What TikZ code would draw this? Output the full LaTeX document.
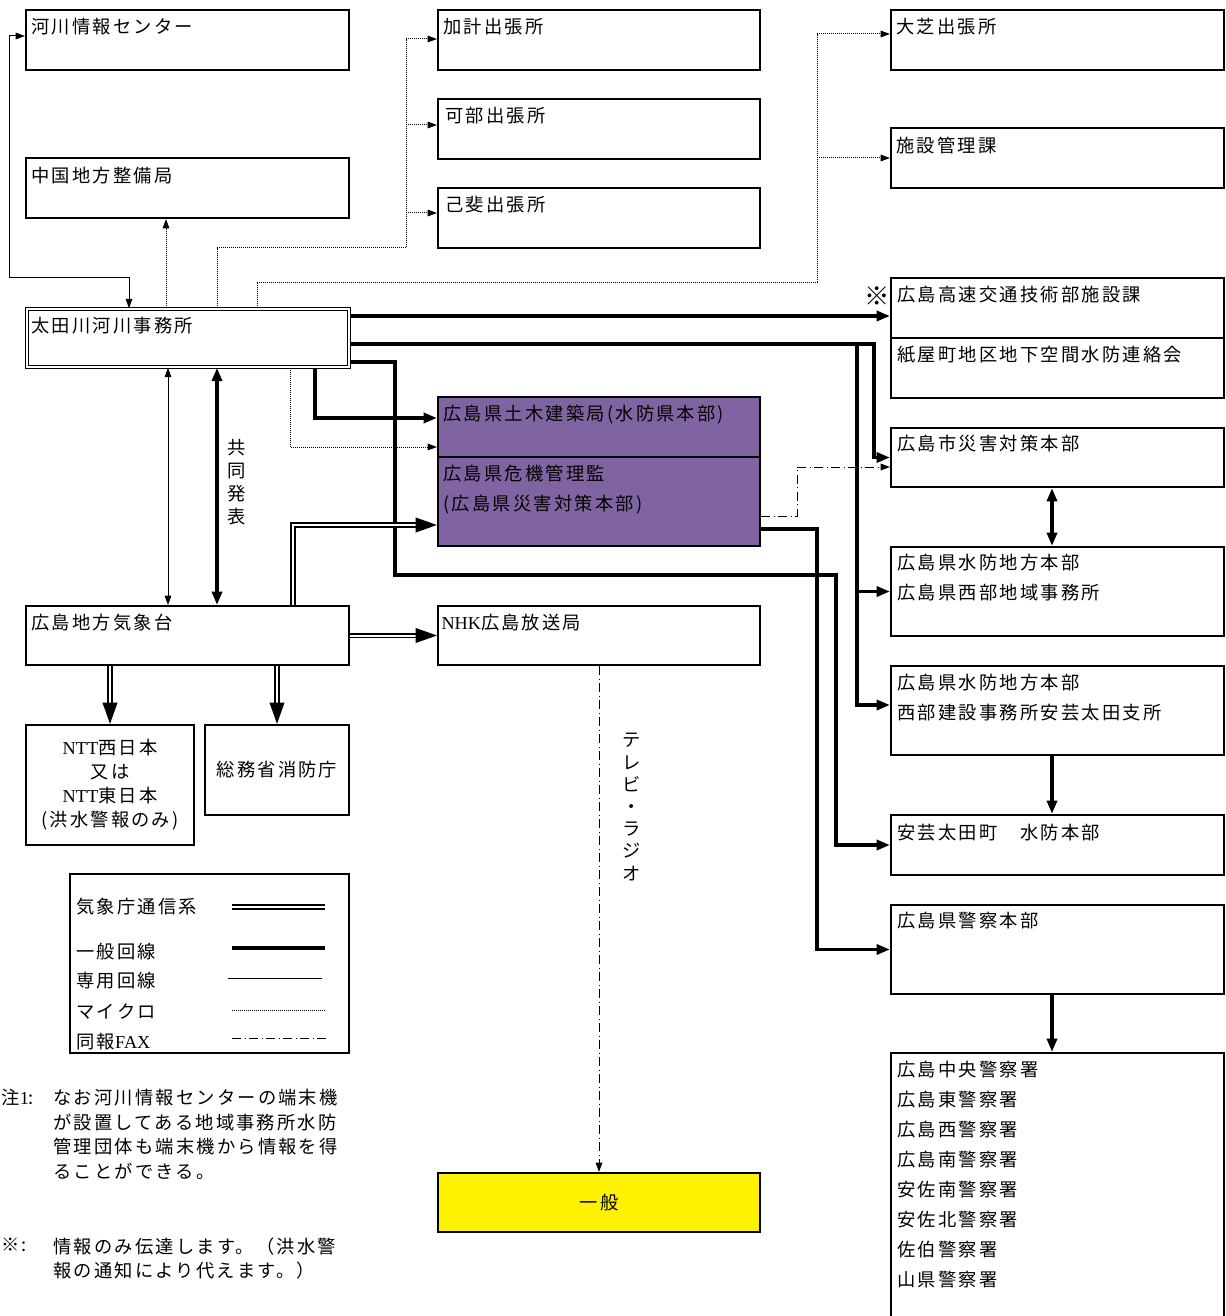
\documentclass[tikz,border=0pt]{standalone}
\usepackage{fontspec}
\setmainfont{Noto Sans CJK JP}[LetterSpace=12]
\newfontfamily\lat{Liberation Serif}
\usetikzlibrary{arrows.meta,fit}
\definecolor{kikipurple}{RGB}{128,100,162}
\newcommand\boxfont{\fontsize{13.7}{22.5}\selectfont}
\newcommand\notefont{\fontsize{13.7}{18.4}\selectfont}
\tikzset{every picture/.style={line width=0.75pt}}
\tikzset{
  box/.style={draw, line width=1.6pt, inner sep=0pt},
  lbl/.style={anchor=north west, inner sep=0pt, align=left, font=\boxfont},
  senyo/.style={line width=0.75pt, >={Triangle[length=7pt,width=5pt]}},
  ippan/.style={line width=2.9pt, >={Triangle[length=10pt,width=7.5pt]}},
  micro/.style={line width=0.75pt, dash pattern=on 0.75pt off 0.75pt, >={Triangle[length=7pt,width=5pt]}},
  fax/.style={line width=0.75pt, dash pattern=on 7pt off 2.5pt on 0.75pt off 2.5pt, >={Triangle[length=7pt,width=5pt]}},
  kisho/.style={double, line width=1.2pt, double distance=1.5pt, >={Triangle[length=16pt,width=11pt]}}
}

\begin{document}
\begin{tikzpicture}[x=0.75pt,y=0.75pt,yscale=-1,xscale=1]
\useasboundingbox (0,0) rectangle (1225,1316);

%Boxes
\node[box, fit={(26,10)(349,70)}] (river) {};
\node[box, fit={(26,158)(349,218)}] (chugoku) {};
\node[box, double, line width=1.2pt, double distance=1.2pt, fit={(27,309)(349,367)}] (office) {};
\node[box, fit={(438,10)(760,70)}] (kake) {};
\node[box, fit={(438,99)(760,159)}] (kabe) {};
\node[box, fit={(438,188)(760,248)}] (koi) {};
\node[box, fit={(891,10)(1224,70)}] (oshiba) {};
\node[box, fit={(891,128)(1224,188)}] (shisetsu) {};
\node[box, fit={(891,278)(1224,338)}] (kosoku) {};
\node[box, fit={(891,338)(1224,398)}] (kamiya) {};
\node[box, fit={(891,428)(1224,487)}] (shi) {};
\node[box, fit={(891,547)(1224,636)}] (seibu) {};
\node[box, fit={(891,666)(1224,755)}] (shisho) {};
\node[box, fit={(891,815)(1224,875)}] (town) {};
\node[box, fit={(891,905)(1224,994)}] (police) {};
\node[box, fit={(891,1053)(1224,1340)}] (stations) {};
\node[box, fill=kikipurple, fit={(438,397)(760,457)}] (pref) {};
\node[box, fill=kikipurple, fit={(438,457)(760,546)}] (kiki) {};
\node[box, fit={(26,606)(349,665)}] (kisho) {};
\node[box, fit={(438,606)(760,665)}] (nhk) {};
\node[box, fit={(26,725)(194,845)}] (ntt) {};
\node[box, fit={(205,725)(349,815)}] (fdma) {};
\node[box, fill=yellow, fit={(438,1173)(760,1232)}] (ippan) {};
\node[box, line width=2.2pt, fit={(70,874)(349,1053)}] (legend) {};

% Text Node
\node[lbl] (river-t) at (31,18) {河川情報センター};
\node[lbl] (chugoku-t) at (31,167) {中国地方整備局};
\node[lbl] (office-t) at (31,317) {太田川河川事務所};
\node[lbl] (kake-t) at (443,18) {加計出張所};
\node[lbl] (kabe-t) at (445,107) {可部出張所};
\node[lbl] (koi-t) at (445,196) {己斐出張所};
\node[lbl] (oshiba-t) at (896,18) {大芝出張所};
\node[lbl] (shisetsu-t) at (896,137) {施設管理課};
\node[font=\fontsize{19}{19}\selectfont, inner sep=0pt] (kome) at (877,296) {※};
\node[lbl] (kosoku-t) at (897,286) {広島高速交通技術部施設課};
\node[lbl] (kamiya-t) at (897,346) {紙屋町地区地下空間水防連絡会};
\node[lbl] (shi-t) at (897,435) {広島市災害対策本部};
\node[lbl] (seibu-t) at (897,554) {広島県水防地方本部\\広島県西部地域事務所};
\node[lbl] (shisho-t) at (897,674) {広島県水防地方本部\\西部建設事務所安芸太田支所};
\node[lbl] (town-t) at (897,824) {安芸太田町　水防本部};
\node[lbl] (police-t) at (897,912) {広島県警察本部};
\node[lbl] (stations-t) at (897,1061) {広島中央警察署\\広島東警察署\\広島西警察署\\広島南警察署\\安佐南警察署\\安佐北警察署\\佐伯警察署\\山県警察署};
\node[lbl] (pref-t) at (443,405) {広島県土木建築局(水防県本部)};
\node[lbl] (kiki-t) at (443,465) {広島県危機管理監\\(広島県災害対策本部)};
\node[lbl] (kisho-t) at (31,614) {広島地方気象台};
\node[lbl] (nhk-t) at (441,614) {{\lat NHK}広島放送局};
\node[font=\fontsize{13.7}{18}\selectfont, align=center] (ntt-t) at (ntt) {{\lat NTT}西日本\\又は\\{\lat NTT}東日本\\(洪水警報のみ)};
\node[font=\boxfont] (fdma-t) at (fdma) {総務省消防庁};
\node[font=\boxfont] (ippan-t) at (ippan) {一般};
\node[font=\fontsize{13.7}{17.25}\selectfont, align=center] (kyodo) at (237,482) {共\\同\\発\\表};
\node[font=\fontsize{13.7}{16.65}\selectfont, align=center] (tvradio) at (632,807) {テ\\レ\\ビ\\・\\ラ\\ジ\\オ};

%Legend
\node[lbl] (lg-kisho) at (76,898) {気象庁通信系};
\node[lbl] (lg-ippan) at (76,943) {一般回線};
\node[lbl] (lg-senyo) at (76,972) {専用回線};
\node[lbl] (lg-micro) at (76,1003) {マイクロ};
\node[lbl] (lg-fax) at (76,1033) {同報{\lat FAX}};
\draw[kisho] (232,907) -- (325,907);
\draw[ippan] (232,948) -- (325,948);
\draw[senyo] (228,978) -- (322,978);
\draw[micro] (232,1010) -- (326,1010);
\draw[fax] (232,1038) -- (328,1038);

%Notes
\node[lbl] (note1-h) at (1,1089) {注{\lat 1}:};
\node[lbl, font=\notefont] (note1) at (53,1089) {なお河川情報センターの端末機\\が設置してある地域事務所水防\\管理団体も端末機から情報を得\\ることができる。};
\node[lbl] (note2-h) at (1,1237) {※:};
\node[lbl, font=\notefont] (note2) at (53,1237) {情報のみ伝達します。（洪水警\\報の通知により代えます。）};

%Lanes and turns
\coordinate (xRiv) at (129,0);
\coordinate (xChu) at (166,0);
\coordinate (xSen) at (168,0);
\coordinate (xBr) at (217,0);
\coordinate (xOs) at (257,0);
\coordinate (xMic) at (290,0);
\coordinate (xKd) at (293,0);
\coordinate (xDk) at (315,0);
\coordinate (xL3) at (395,0);
\coordinate (xFax) at (797,0);
\coordinate (xPol) at (817,0);
\coordinate (xTown) at (836,0);
\coordinate (xCity) at (857,0);
\coordinate (xShi) at (874,0);
\coordinate (xRt) at (1052,0);
\coordinate (yRiv) at (0,36);
\coordinate (yKake) at (0,39);
\coordinate (yKabe) at (0,125);
\coordinate (yKoi) at (0,213);
\coordinate (yOsh) at (0,34);
\coordinate (yKos) at (0,316);
\coordinate (yCity) at (0,344);
\coordinate (yL3) at (0,362);
\coordinate (yDk) at (0,418);
\coordinate (yMic) at (0,447);
\coordinate (yFaxIn) at (0,467);
\coordinate (yFaxOut) at (0,516);
\coordinate (yKd) at (0,525);
\coordinate (yPol) at (0,529);
\coordinate (yL3b) at (0,575);
\coordinate (yShisho) at (0,705);
\coordinate (rivTurn) at (9,277);
\coordinate (brTurn) at (406,248);
\coordinate (osTurn) at (817,282);

%Straight Lines
\draw[senyo, <->] (office.north -| xRiv) |- (rivTurn) |- (river.west |- yRiv);
\draw[micro, ->] (office.north -| xChu) -- (chugoku.south -| xChu);
\draw[micro, ->] (office.north -| xBr) |- (brTurn) |- (kake.west |- yKake);
\draw[micro, ->] (brTurn |- yKabe) -- (kabe.west |- yKabe);
\draw[micro, ->] (brTurn |- yKoi) -- (koi.west |- yKoi);
\draw[micro, ->] (office.north -| xOs) |- (osTurn) |- (oshiba.west |- yOsh);
\draw[micro, ->] (osTurn |- shisetsu.west) -- (shisetsu.west);

\draw[ippan, ->] (office.east |- yKos) -- (kosoku.west |- yKos);
\draw[ippan, ->] (office.east |- yCity) -| (xShi |- shi.west) -- (shi.west);
\draw[ippan, ->] (xCity |- yCity) |- (shisho.west |- yShisho);
\draw[ippan, ->] (xCity |- seibu.west) -- (seibu.west);
\draw[ippan, ->] (office.east |- yL3) -| (xL3 |- yL3b) -| (xTown |- town.west) -- (town.west);
\draw[ippan, ->] (kiki.east |- yPol) -| (xPol |- police.west) -- (police.west);
\draw[micro, ->] (office.south -| xMic) |- (pref.west |- yMic);
\draw[ippan, ->] (office.south -| xDk) |- (pref.west |- yDk);
\draw[fax, ->] (kiki.east |- yFaxOut) -| (xFax |- yFaxIn) -- (shi.west |- yFaxIn);
\draw[kisho, ->] (kisho.north -| xKd) |- (kiki.west |- yKd);

\draw[senyo, <->] (office.south -| xSen) -- (kisho.north -| xSen);
\draw[ippan, <->] (office.south -| xBr) -- (kisho.north -| xBr);
\draw[kisho, ->] (kisho.east) -- (nhk.west);
\draw[kisho, ->] (kisho.south -| ntt.north) -- (ntt.north);
\draw[kisho, ->] (kisho.south -| fdma.north) -- (fdma.north);
\draw[fax, ->] (nhk.south) -- (ippan.north);

\draw[ippan, <->] (shi.south -| xRt) -- (seibu.north -| xRt);
\draw[ippan, ->] (shisho.south -| xRt) -- (town.north -| xRt);
\draw[ippan, ->] (police.south -| xRt) -- (stations.north -| xRt);

\end{tikzpicture}
\end{document}
